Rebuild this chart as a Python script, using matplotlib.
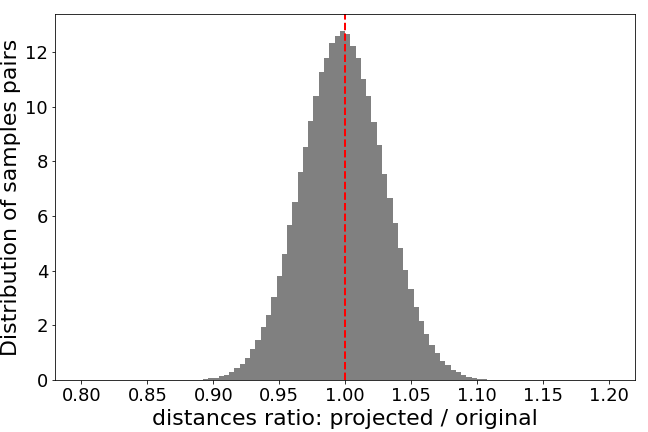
import matplotlib
matplotlib.use('Agg')
import matplotlib.pyplot as plt
import numpy as np

# histogram bins: 100 bins between 0.8 and 1.2
bin_edges = np.linspace(0.8, 1.2, 101)

# heights (density), bins starting at 0.884
first_bin = 0.884
heights = [0.01, 0.02, 0.05, 0.08, 0.09, 0.16, 0.19, 0.29, 0.44, 0.59,
           0.80, 1.13, 1.46, 1.94, 2.38, 3.04, 3.80, 4.61, 5.67, 6.51,
           7.61, 8.53, 9.48, 10.39, 11.27, 11.78, 12.33, 12.59, 12.75, 12.66,
           12.22, 11.78, 11.01, 10.39, 9.44, 8.60, 7.54, 6.66, 5.74, 4.83,
           4.02, 3.33, 2.67, 2.16, 1.68, 1.28, 0.99, 0.70, 0.55, 0.37,
           0.29, 0.18, 0.11, 0.07, 0.04, 0.03, 0.01]

centers = bin_edges[:-1] + 0.002
weights = np.zeros(100)
start = int(round((first_bin - 0.8) / 0.004))
weights[start:start + len(heights)] = heights

fig, ax = plt.subplots(figsize=(9, 6), dpi=72)
fig.subplots_adjust(left=0.085, right=0.98, bottom=0.12, top=0.968)
ax.hist(centers, bins=bin_edges, weights=weights, color='grey')
ax.axvline(1.0, color='red', linestyle='--', linewidth=2)
ax.set_xlabel("distances ratio: projected / original", fontsize=22)
ax.set_ylabel("Distribution of samples pairs", fontsize=22)
ax.tick_params(labelsize=18)
fig.savefig('out.png', dpi=72)
